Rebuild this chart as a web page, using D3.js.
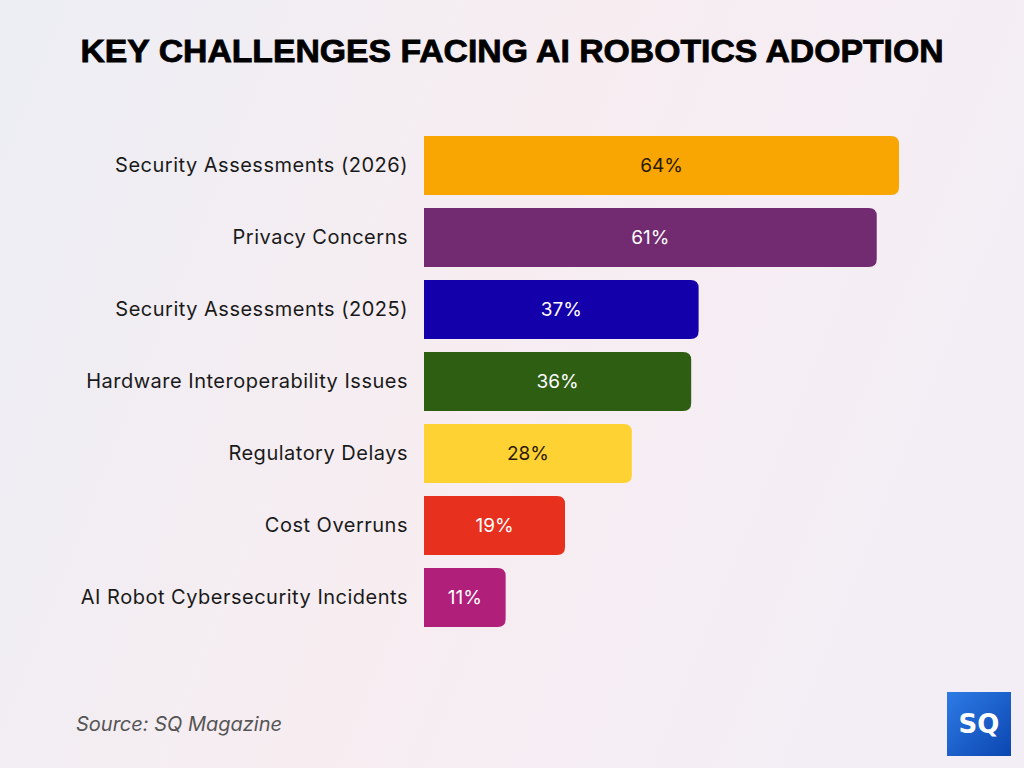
<!DOCTYPE html>
<html>
<head>
<meta charset="UTF-8">
<title>Key Challenges Facing AI Robotics Adoption</title>
<script src="https://d3js.org/d3.v7.min.js"></script>
<style>
  body { margin: 0; padding: 0; }
  svg { display: block; }
</style>
</head>
<body>
<svg id="chart" width="1024" height="768"></svg>
<script>
  // Chart data
  var categories = [
    "Security Assessments (2026)",
    "Privacy Concerns",
    "Security Assessments (2025)",
    "Hardware Interoperability Issues",
    "Regulatory Delays",
    "Cost Overruns",
    "AI Robot Cybersecurity Incidents"
  ];
  var values = [64, 61, 37, 36, 28, 19, 11];
  var barColors = ["#F9A602", "#722A70", "#1400AA", "#2E5E12", "#FFD233", "#E8301F", "#B01F7A"];
  var labelColors = ["#2a1a00", "#ffffff", "#ffffff", "#ffffff", "#2a1a00", "#ffffff", "#ffffff"];

  var svg = d3.select("#chart");

  // background gradient
  var defs = svg.append("defs");
  var bg = defs.append("linearGradient").attr("id", "bg")
    .attr("x1", "0").attr("y1", "0").attr("x2", "1").attr("y2", "0.3");
  bg.append("stop").attr("offset", "0%").attr("stop-color", "#ECEEF4");
  bg.append("stop").attr("offset", "55%").attr("stop-color", "#F7EDF1");
  bg.append("stop").attr("offset", "100%").attr("stop-color", "#F3EEF5");

  var logoGrad = defs.append("linearGradient").attr("id", "logo")
    .attr("x1", "0").attr("y1", "0").attr("x2", "1").attr("y2", "1");
  logoGrad.append("stop").attr("offset", "0%").attr("stop-color", "#2E7BE6");
  logoGrad.append("stop").attr("offset", "100%").attr("stop-color", "#0B46B0");

  svg.append("rect").attr("width", 1024).attr("height", 768).attr("fill", "url(#bg)");

  // title
  svg.append("text")
    .attr("x", 512).attr("y", 62)
    .attr("text-anchor", "middle")
    .attr("textLength", 863)
    .attr("lengthAdjust", "spacingAndGlyphs")
    .style("font-family", "Liberation Sans, Arial, sans-serif")
    .style("font-weight", "900")
    .style("font-size", "32px")
    .style("fill", "#000")
    .style("stroke", "#000")
    .style("stroke-width", "0.8px")
    .text("KEY CHALLENGES FACING AI ROBOTICS ADOPTION");

  // scales
  var x = d3.scaleLinear().domain([0, 64]).range([424, 899]);
  var y = d3.scaleBand().domain(categories).range([136, 627]).paddingInner(0.18).paddingOuter(0);

  var r = 8;
  // bar with rounded right corners only
  function barPath(x0, x1, y0, h) {
    return "M" + x0 + "," + y0 +
      "H" + (x1 - r) +
      "Q" + x1 + "," + y0 + " " + x1 + "," + (y0 + r) +
      "V" + (y0 + h - r) +
      "Q" + x1 + "," + (y0 + h) + " " + (x1 - r) + "," + (y0 + h) +
      "H" + x0 + "Z";
  }

  var rows = svg.selectAll("g.row")
    .data(categories)
    .enter()
    .append("g")
    .attr("class", "row");

  rows.append("path")
    .attr("d", function (d, i) {
      return barPath(x(0), x(values[i]), y(d), y.bandwidth());
    })
    .attr("fill", function (d, i) { return barColors[i]; });

  rows.append("text")
    .attr("x", 408)
    .attr("y", function (d) { return y(d) + y.bandwidth() / 2; })
    .attr("dy", "0.33em")
    .attr("text-anchor", "end")
    .style("font-family", "Inter, sans-serif")
    .style("font-size", "20px")
    .style("letter-spacing", "0.5px")
    .style("fill", "#1a1a1a")
    .text(function (d) { return d; });

  rows.append("text")
    .attr("x", function (d, i) { return (x(0) + x(values[i])) / 2; })
    .attr("y", function (d) { return y(d) + y.bandwidth() / 2; })
    .attr("dy", "0.35em")
    .attr("text-anchor", "middle")
    .style("font-family", "Inter, sans-serif")
    .style("font-size", "19px")
    .style("fill", function (d, i) { return labelColors[i]; })
    .text(function (d, i) { return values[i] + "%"; });

  // source
  svg.append("text")
    .attr("x", 76).attr("y", 731)
    .style("font-family", "Inter, sans-serif")
    .style("font-style", "italic")
    .style("font-size", "20px")
    .style("fill", "#555")
    .text("Source: SQ Magazine");

  // logo
  svg.append("rect")
    .attr("x", 947).attr("y", 692).attr("width", 64).attr("height", 64)
    .attr("fill", "url(#logo)");
  svg.append("text")
    .attr("x", 979).attr("y", 733)
    .attr("text-anchor", "middle")
    .style("font-family", "DejaVu Sans, sans-serif")
    .style("font-weight", "bold")
    .style("font-size", "26px")
    .style("fill", "#fff")
    .text("SQ");
</script>
</body>
</html>
